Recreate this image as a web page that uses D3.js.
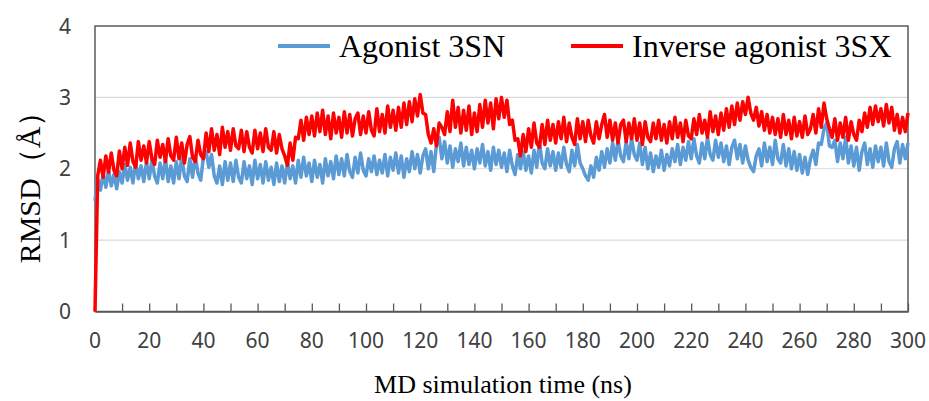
<!DOCTYPE html>
<html><head><meta charset="utf-8">
<script src="https://cdn.jsdelivr.net/npm/d3@7"></script>
<style>body{margin:0;background:#fff}svg{display:block}</style>
</head><body>
<svg id="chart" width="929" height="401"></svg>
<script>
const seriesNames = ["Agonist 3SN", "Inverse agonist 3SX"];
const seriesColors = ["#5B9BD5", "#FF0000"];
const xTicks = d3.range(0, 301, 20);
const yTicks = [0, 1, 2, 3, 4];
// RMSD (Å) sampled every 1 ns, t = 0..300
const agonist = [
1.55,1.86,1.70,1.94,1.74,1.98,1.76,1.92,1.72,1.96,
1.80,2.06,1.84,2.02,1.80,2.10,1.86,2.04,1.82,2.10,
1.86,2.12,1.90,1.80,2.08,1.86,2.14,1.82,2.04,1.80,
2.10,1.86,2.16,1.90,1.82,2.14,1.88,2.18,1.94,1.84,
2.16,2.24,2.02,2.20,1.90,1.80,2.04,1.78,2.10,1.84,
2.08,1.82,2.12,1.88,1.80,2.10,1.86,2.04,1.78,2.12,
1.86,2.06,1.80,2.10,1.84,2.02,1.78,2.08,1.82,2.04,
1.80,2.10,1.86,2.04,1.80,2.12,1.88,2.16,1.90,2.08,
1.82,2.12,1.88,2.06,1.80,2.14,1.90,2.10,1.86,2.18,
1.92,2.14,1.90,2.20,1.96,1.88,2.16,1.94,2.22,1.98,
1.90,2.14,1.96,2.18,1.92,2.12,1.94,2.20,1.90,2.16,
1.98,2.22,1.94,2.18,1.88,2.14,1.96,2.24,2.00,2.20,
1.94,2.18,2.28,2.00,2.24,1.96,2.34,2.44,2.14,2.38,
2.08,2.32,2.02,2.28,2.10,2.36,2.04,2.30,2.06,2.26,
2.00,2.28,2.08,2.34,2.04,2.24,1.98,2.30,2.06,2.26,
2.02,2.22,1.96,2.26,2.04,1.92,2.20,2.00,2.24,1.98,
2.18,1.94,2.26,2.02,2.38,2.08,2.00,2.28,2.04,2.24,
1.98,2.22,2.02,2.30,2.06,1.96,2.26,2.04,2.34,2.08,
2.00,1.90,1.84,2.04,1.88,2.16,1.98,2.24,2.02,2.28,
2.08,2.36,2.12,2.40,2.18,2.10,2.38,2.14,2.42,2.20,
2.12,2.36,2.06,2.30,2.00,2.22,1.96,2.18,2.02,2.26,
1.98,2.20,2.04,2.28,2.10,2.34,2.06,2.30,2.12,2.38,
2.14,2.42,2.18,2.08,2.36,2.14,2.44,2.20,2.12,2.40,
2.16,2.36,2.10,2.32,2.06,2.30,2.40,2.14,2.34,2.08,
2.32,2.12,2.02,1.96,2.18,2.28,2.04,2.36,2.10,2.30,
2.06,2.40,2.14,2.08,2.34,2.04,2.28,2.00,2.24,1.98,
2.20,1.94,2.16,1.92,2.14,2.26,2.06,2.36,2.34,2.56,
2.64,2.32,2.30,2.40,2.10,2.36,2.14,2.44,2.08,2.32,
2.04,2.30,1.98,2.24,2.36,2.06,2.28,2.02,2.32,2.10,
2.30,2.04,2.36,2.10,2.02,2.28,2.38,2.08,2.34,2.14,
2.36];
const inverseAgonist = [
0.00,1.90,2.12,1.88,2.18,1.95,2.22,1.98,1.90,2.25,
2.00,2.30,2.05,2.36,2.10,2.02,2.38,2.12,2.32,2.08,
2.38,2.14,2.06,2.40,2.16,2.34,2.10,2.42,2.18,2.12,
2.44,2.14,2.36,2.08,2.34,2.45,2.16,2.10,2.40,2.20,
2.14,2.50,2.24,2.56,2.26,2.48,2.20,2.58,2.30,2.52,
2.26,2.56,2.32,2.28,2.54,2.24,2.52,2.30,2.22,2.54,
2.28,2.50,2.24,2.56,2.30,2.26,2.52,2.22,2.48,2.28,
2.18,2.05,2.36,2.12,2.44,2.42,2.68,2.40,2.72,2.48,
2.74,2.46,2.78,2.52,2.82,2.48,2.74,2.42,2.78,2.50,
2.72,2.44,2.80,2.50,2.76,2.46,2.70,2.78,2.48,2.74,
2.50,2.80,2.54,2.46,2.84,2.52,2.76,2.50,2.88,2.58,
2.82,2.54,2.86,2.58,2.92,2.62,2.94,2.66,2.98,2.74,
3.04,2.78,2.76,2.48,2.36,2.56,2.32,2.64,2.58,2.48,
2.80,2.52,2.96,2.58,2.86,2.50,2.82,2.54,2.88,2.48,
2.78,2.52,2.90,2.58,2.96,2.64,2.92,2.56,2.98,2.70,
3.00,2.72,2.96,2.62,2.68,2.40,2.42,2.18,2.48,2.24,
2.56,2.30,2.64,2.36,2.30,2.62,2.34,2.68,2.40,2.62,
2.36,2.66,2.42,2.72,2.38,2.64,2.44,2.34,2.70,2.42,
2.66,2.38,2.68,2.46,2.36,2.66,2.42,2.62,2.76,2.44,
2.68,2.40,2.64,2.36,2.62,2.68,2.38,2.64,2.42,2.70,
2.40,2.64,2.34,2.66,2.44,2.38,2.64,2.42,2.68,2.40,
2.62,2.36,2.66,2.42,2.72,2.44,2.64,2.38,2.68,2.46,
2.42,2.70,2.48,2.76,2.50,2.68,2.44,2.80,2.52,2.74,
2.48,2.78,2.54,2.84,2.58,2.88,2.62,2.92,2.68,2.94,
2.76,3.00,2.78,2.68,2.86,2.60,2.80,2.54,2.76,2.50,
2.72,2.48,2.70,2.44,2.76,2.48,2.68,2.42,2.72,2.46,
2.66,2.44,2.74,2.48,2.56,2.76,2.50,2.84,2.58,2.92,
2.70,2.56,2.44,2.70,2.40,2.64,2.44,2.72,2.40,2.66,
2.48,2.40,2.68,2.52,2.78,2.58,2.86,2.62,2.88,2.66,
2.84,2.60,2.90,2.64,2.86,2.54,2.76,2.50,2.72,2.52,
2.78];
const seriesData = [agonist, inverseAgonist];

const svg = d3.select("#chart");
const L = 95, R = 908, T = 26, B = 311.5;
const x = d3.scaleLinear().domain([0, 300]).range([L, R]);
const y = d3.scaleLinear().domain([0, 4]).range([B, T]);

// grid
svg.append("g").selectAll("line").data([1, 2, 3]).join("line")
  .attr("x1", L).attr("x2", R).attr("y1", d => y(d)).attr("y2", d => y(d))
  .attr("stroke", "#d9d9d9").attr("stroke-width", 1.2);

// frame
svg.append("rect").attr("x", L).attr("y", T).attr("width", R - L).attr("height", B - T)
  .attr("fill", "none").attr("stroke", "#595959").attr("stroke-width", 1.5);

// x axis with inward ticks every 10
const xAxis = d3.axisBottom(x).tickValues(d3.range(0, 301, 10)).tickSizeInner(-8).tickSizeOuter(0).tickFormat("");
const gx = svg.append("g").attr("transform", `translate(0,${B})`).call(xAxis);
gx.select(".domain").attr("stroke", "#595959").attr("stroke-width", 1.5);
gx.selectAll(".tick line").attr("stroke", "#595959").attr("stroke-width", 1.3);

svg.append("g").selectAll("text").data(xTicks).join("text")
  .attr("x", d => x(d)).attr("y", 348).attr("text-anchor", "middle")
  .attr("font-family", "'Noto Sans', sans-serif").attr("font-size", 21).attr("fill", "#404040")
  .text(d => d);

svg.append("g").selectAll("text").data(yTicks).join("text")
  .attr("x", 71).attr("y", d => y(d) + 7.5).attr("text-anchor", "end")
  .attr("font-family", "'Noto Sans', sans-serif").attr("font-size", 21).attr("fill", "#404040")
  .text(d => d);

// lines
const line = d3.line().x((d, i) => x(i)).y(d => y(d));
seriesData.forEach((s, k) => {
  svg.append("path").datum(s).attr("d", line).attr("fill", "none")
    .attr("stroke", seriesColors[k]).attr("stroke-width", 3.5).attr("stroke-linejoin", "round");
});

// legend
const legendX = [278, 571];
seriesNames.forEach((n, k) => {
  svg.append("line").attr("x1", legendX[k]).attr("x2", legendX[k] + 52)
    .attr("y1", 46).attr("y2", 46).attr("stroke", seriesColors[k]).attr("stroke-width", 4);
  svg.append("text").attr("x", legendX[k] + 61).attr("y", 57)
    .attr("font-family", "'Liberation Serif', 'Times New Roman', serif").attr("font-size", 32)
    .attr("fill", "#000").text(n);
});

// axis titles
svg.append("text").attr("x", 503).attr("y", 393).attr("text-anchor", "middle")
  .attr("font-family", "'Liberation Serif', serif").attr("font-size", 26).attr("fill", "#000")
  .text("MD simulation time (ns)");
svg.append("text").attr("transform", "translate(40,180) rotate(-90)").attr("text-anchor", "middle")
  .attr("font-family", "'Liberation Serif', serif").attr("font-size", 30).attr("fill", "#000")
  .text("RMSD（Å）");
</script>
</body></html>
